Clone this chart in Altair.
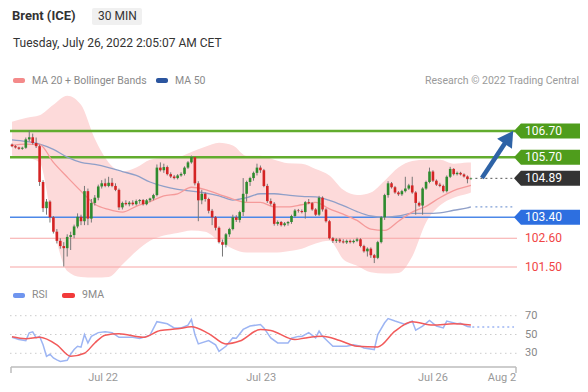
import altair as alt
import pandas as pd

# ---------------- data ----------------
opens = [106.18,106.12,106.07,106.02,106.06,106.38,106.46,106.24,106.12,104.75,
         103.75,104.00,103.40,102.85,102.50,102.30,102.22,102.65,102.72,103.05,
         103.42,103.25,104.40,103.35,103.95,104.15,104.58,104.70,104.60,104.72,
         104.60,104.45,103.78,103.95,103.90,103.96,103.90,104.02,104.06,103.90,
         104.05,104.12,104.25,105.30,105.20,105.32,105.05,104.96,104.90,105.00,
         105.06,105.30,105.50,105.70,104.70,104.05,104.30,104.10,103.65,103.40,
         103.00,102.45,102.35,102.75,102.95,103.40,103.30,103.60,104.30,104.75,
         104.90,105.10,105.30,105.20,104.60,104.02,103.92,103.15,103.22,103.10,
         103.17,103.22,103.45,103.66,103.64,103.60,103.98,103.94,103.70,103.50,
         104.15,103.70,103.25,102.60,102.50,102.55,102.48,102.44,102.50,102.45,
         102.50,102.56,102.30,102.10,102.20,101.95,101.85,102.45,103.40,104.25,
         104.70,104.55,104.35,104.28,104.40,104.50,104.62,104.35,103.95,103.85,
         104.50,104.75,105.15,104.80,104.65,104.60,104.40,104.95,105.25,105.05,
         105.10,105.04,104.96,104.86]
highs = [106.22,106.16,106.10,106.10,106.45,106.72,106.60,106.45,106.18,104.82,
         104.10,104.05,103.45,102.95,102.60,102.45,102.75,102.85,103.12,103.55,
         103.50,104.60,104.50,104.10,104.25,104.65,104.82,104.88,104.95,104.90,
         104.70,104.50,104.00,104.05,104.02,104.05,104.08,104.10,104.10,104.10,
         104.15,104.30,105.42,105.50,105.45,105.38,105.12,105.02,105.05,105.12,
         105.35,105.55,105.76,105.72,104.78,104.45,104.35,104.15,103.72,103.45,
         103.05,102.55,102.80,103.00,103.50,103.48,103.65,104.90,104.80,104.95,
         105.15,105.45,105.38,105.25,104.68,104.12,103.98,103.28,103.26,103.22,
         103.26,103.50,103.72,103.72,103.70,104.02,104.10,103.98,103.75,104.22,
         104.20,103.75,103.30,102.65,102.60,102.60,102.56,102.55,102.55,102.55,
         102.62,102.60,102.35,102.25,102.25,102.00,102.50,103.45,104.30,104.78,
         104.75,104.60,104.40,104.45,104.95,104.68,104.95,104.40,104.00,104.55,
         104.80,105.30,105.20,104.85,104.72,104.65,105.00,105.33,105.28,105.15,
         105.14,105.08,105.00,104.92]
lows = [106.08,106.03,105.98,105.98,106.02,106.30,106.18,106.05,104.60,103.60,
        103.50,103.20,102.78,102.40,102.20,101.52,101.90,102.15,102.60,102.98,
        103.10,103.10,103.10,103.20,103.85,104.05,104.50,104.55,104.55,104.55,
        104.40,103.68,103.70,103.85,103.82,103.85,103.85,103.92,103.85,103.86,
        103.98,104.05,104.20,105.15,105.10,105.00,104.90,104.85,104.85,104.95,
        105.00,105.25,105.45,104.62,103.25,103.90,104.00,103.55,103.10,102.90,
        102.40,101.90,102.25,102.65,102.90,103.22,103.20,103.45,104.00,104.60,
        104.80,105.00,105.10,104.55,103.95,103.85,103.08,103.08,103.05,103.05,
        103.08,103.15,103.40,103.58,103.55,103.35,103.90,103.65,103.45,103.45,
        103.62,103.20,102.55,102.42,102.42,102.42,102.40,102.38,102.40,102.40,
        102.45,102.25,102.05,101.90,101.85,101.65,101.80,102.40,103.30,104.15,
        104.50,104.30,104.22,104.22,104.35,104.45,104.30,103.50,103.80,103.50,
        104.45,104.70,104.75,104.60,104.55,104.35,104.35,104.90,105.00,105.00,
        105.00,104.92,104.70,104.84]
closes = [106.12,106.07,106.02,106.06,106.38,106.46,106.24,106.12,104.75,103.75,
          104.00,103.40,102.85,102.50,102.30,102.22,102.65,102.72,103.05,103.42,
          103.25,104.40,103.35,103.95,104.15,104.58,104.70,104.60,104.72,104.60,
          104.45,103.78,103.95,103.90,103.96,103.90,104.02,104.06,103.90,104.05,
          104.12,104.25,105.30,105.20,105.32,105.05,104.96,104.90,105.00,105.06,
          105.30,105.50,105.70,104.70,104.05,104.30,104.10,103.65,103.40,103.00,
          102.45,102.35,102.75,102.95,103.40,103.30,103.60,104.30,104.75,104.90,
          105.10,105.30,105.20,104.60,104.02,103.92,103.15,103.22,103.10,103.17,
          103.22,103.45,103.66,103.64,103.60,103.98,103.94,103.70,103.50,104.15,
          103.70,103.25,102.60,102.50,102.55,102.48,102.44,102.50,102.45,102.50,
          102.56,102.30,102.10,102.20,101.95,101.85,102.45,103.40,104.25,104.70,
          104.55,104.35,104.28,104.40,104.50,104.62,104.35,103.95,103.85,104.50,
          104.75,105.15,104.80,104.65,104.60,104.40,104.95,105.25,105.05,105.10,
          105.04,104.96,104.86,104.89]

ind_idx = [0,4,8,12,16,20,24,28,32,36,40,44,48,52,56,60,64,68,72,76,80,84,88,92,
           96,100,104,108,112,116,120,124,128,132,133]
ma20 = [106.15,106.2,106.18,105.5,104.94,104.4,103.9,103.7,103.6,103.82,104.0,104.22,
        104.3,104.55,104.46,104.28,104.1,103.97,103.97,103.8,103.8,103.88,103.97,103.72,
        103.52,103.28,102.95,102.9,103.25,103.6,103.82,104.15,104.42,104.58,104.62]
ma50 = [106.36,106.3,106.2,106.0,105.7,105.5,105.42,105.3,105.15,105.0,104.75,104.58,
        104.47,104.4,104.33,104.22,104.06,104.15,104.3,104.3,104.25,104.2,104.18,104.05,
        103.85,103.62,103.45,103.4,103.45,103.55,103.55,103.57,103.67,103.76,103.8]
bb_up = [107.05,107.2,107.3,107.7,108.05,107.7,106.4,105.5,105.15,105.3,105.6,105.67,
         105.7,105.9,106.1,106.25,106.15,105.75,105.75,105.6,105.47,105.45,105.25,105.0,
         104.45,104.25,104.35,104.8,105.3,105.55,105.6,105.6,105.45,105.5,105.5]
bb_lo = [105.75,105.7,105.5,103.0,101.35,101.12,101.1,101.12,101.6,102.1,102.5,102.7,
         102.8,102.9,102.85,102.5,102.2,102.05,102.05,102.05,102.1,102.2,102.4,102.5,
         101.8,101.55,101.3,101.25,101.27,101.9,103.2,103.85,104.15,104.3,104.35]

rsi_idx = [0,2,4,5,6,7,8,9,10,11,12,13,14,16,17,18,19,20,21,22,23,25,27,29,31,35,37,39,
           40,42,45,47,49,51,52,53,54,57,59,60,62,64,65,67,69,72,73,75,77,80,81,83,84,
           86,88,89,90,93,97,99,101,102,105,106,108,109,111,114,116,117,119,121,123,125,
           126,129,130,132,133]
rsi_val = [47,44.6,43.5,51.8,52.9,46.4,48,39,26.8,29,25,23,21.4,22.5,29,34,37.5,36.5,50,
           41,48,52,53,52,47,47,45.7,48,49.3,63.6,61.4,57,57,60,66,50,40,43.6,39,32,37.5,
           46.4,46,55.4,59,60.7,57,46.4,41,41,46,48,48,52,46.4,53.6,48,37.5,37.5,39,37.5,
           35.7,34,50,62.5,67,64.3,60.7,64.3,54.6,59,65,59,57,64.3,61.5,62,58.6,58]
ma9_idx = [0,4,8,13,17,21,24,27,31,38,43,48,52,57,62,66,72,75,82,85,90,95,100,106,111,
           116,122,128,133]
ma9_val = [47.5,45.4,47,39,26.8,30,41,49.3,50.7,47,54.3,56,58.2,51,40,43,55.4,54.3,44.6,
           46.4,48.2,43.6,37.5,36.8,53.6,63.6,60,61.4,60]

level_prices = [106.70, 105.70, 104.89, 103.40, 102.60, 101.50]
level_kinds = ["res", "res", "last", "sup", "sup2", "sup2"]

rsi_levels = [30, 50, 70]
tick_pos = [26.4, 72.2, 122.0, 142.0]
tick_labels = ["Jul 22", "Jul 23", "Jul 26", "Aug 2"]

# projection arrow (index, price)
arrow_i = [136.2, 144.0]
arrow_p = [104.90, 106.46]

# ---------------- frames ----------------
N = len(closes)
candles = pd.DataFrame({"i": list(range(N)), "o": opens, "h": highs, "l": lows, "c": closes})
candles["dir"] = ["up" if c >= o else "down" for o, c in zip(opens, closes)]
ind = pd.DataFrame({"i": ind_idx, "ma20": ma20, "ma50": ma50, "up": bb_up, "lo": bb_lo})
rsi = pd.DataFrame({"i": rsi_idx, "v": rsi_val})
ma9 = pd.DataFrame({"i": ma9_idx, "v": ma9_val})
lv = pd.DataFrame({"p": level_prices, "k": level_kinds,
                   "t": [f"{p:.2f}" for p in level_prices]})
box_fill = {"res": "#4f9d1c", "last": "#333333", "sup": "#2d6fe0"}
boxes = lv[lv.k.isin(box_fill)].copy()
boxes["fill"] = boxes.k.map(box_fill)

FONT = "Roboto"
xs = alt.Scale(domain=[0, 133], range=[4, 462.9], nice=False, zero=False, padding=0)
ps = alt.Scale(domain=[101.5, 106.7], range=[259, 123], nice=False, zero=False, padding=0)
rs = alt.Scale(domain=[30, 70], range=[345.3, 307.7], nice=False, zero=False, padding=0)
X = alt.X("i:Q", scale=xs, axis=None)


def PY(f):
    return alt.Y(f"{f}:Q", scale=ps, axis=None)


def RY(f):
    return alt.Y(f"{f}:Q", scale=rs, axis=None)


def one(txt=""):
    return alt.Chart(pd.DataFrame({"t": [txt]}))


def label(txt, x, y, size=11, color="#888", weight="normal", align="left"):
    return one(txt).mark_text(font=FONT, fontSize=size, color=color, fontWeight=weight,
                              align=align, baseline="middle").encode(
        x=alt.value(x), y=alt.value(y), text="t:N")


def swatch(x1, x2, y1, y2, color):
    return one().mark_rect(color=color, cornerRadius=2).encode(
        x=alt.value(x1), x2=alt.value(x2), y=alt.value(y1), y2=alt.value(y2))


layers = []
# bollinger band
layers.append(alt.Chart(ind).mark_area(color="#fddada", interpolate="monotone").encode(
    x=X, y=PY("up"), y2="lo:Q"))
# level lines
layers.append(alt.Chart(lv[lv.k == "sup2"]).mark_rule(color="#f7a6a6", strokeWidth=1.2).encode(
    x=alt.value(2), x2=alt.value(509), y=PY("p")))
layers.append(alt.Chart(lv[lv.k == "sup"]).mark_rule(color="#4d88e8", strokeWidth=1.5).encode(
    x=alt.value(2), x2=alt.value(507), y=PY("p")))
layers.append(alt.Chart(lv[lv.k == "res"]).mark_rule(color="#62ac2e", strokeWidth=2.5).encode(
    x=alt.value(2), x2=alt.value(507), y=PY("p")))
# moving averages
layers.append(alt.Chart(ind).mark_line(color="#8f9fc8", strokeWidth=1.3, interpolate="monotone").encode(
    x=X, y=PY("ma50")))
layers.append(alt.Chart(ind).mark_line(color="#f59a9a", strokeWidth=1.3, interpolate="monotone").encode(
    x=X, y=PY("ma20")))
# candles
layers.append(alt.Chart(candles).mark_rule(color="#777777", strokeWidth=1).encode(
    x=X, y=PY("l"), y2="h:Q"))
layers.append(alt.Chart(candles).mark_bar(size=2.6).encode(
    x=X, y=PY("o"), y2="c:Q",
    color=alt.Color("dir:N", scale=alt.Scale(domain=["up", "down"], range=["#2e8b2e", "#d42424"]),
                    legend=None)))
# dotted extensions
ext_last = pd.DataFrame({"i": [134.3, 145.0], "p": [closes[-1], closes[-1]]})
ext_ma50 = pd.DataFrame({"i": [134.3, 145.0], "p": [ma50[-1], ma50[-1]]})
layers.append(alt.Chart(ext_last).mark_line(color="#555555", strokeWidth=1, strokeDash=[2, 3]).encode(
    x=X, y=PY("p")))
layers.append(alt.Chart(ext_ma50).mark_line(color="#7f9fd6", strokeWidth=1.2, strokeDash=[2, 3]).encode(
    x=X, y=PY("p")))
# arrow
arrow = pd.DataFrame({"i": arrow_i, "p": arrow_p})
layers.append(alt.Chart(arrow).mark_line(color="#2e63a6", strokeWidth=4.5).encode(x=X, y=PY("p")))
layers.append(alt.Chart(arrow.tail(1)).mark_point(shape="triangle-up", size=320, filled=True,
                                                   color="#2e63a6", opacity=1, angle=34).encode(
    x=X, y=PY("p")))
# level labels (pentagon boxes)
PATH = "M-1,0L-0.79,-0.227L1,-0.227L1,0.227L-0.79,0.227Z"
layers.append(alt.Chart(boxes).mark_point(shape=PATH, size=4356, filled=True, opacity=1,
                                          strokeWidth=0).encode(
    x=alt.value(539), y=PY("p"), color=alt.Color("fill:N", scale=None)))
layers.append(alt.Chart(boxes).mark_text(font=FONT, fontSize=12, color="white", align="left",
                                         baseline="middle").encode(
    x=alt.value(517), y=PY("p"), text="t:N"))
layers.append(alt.Chart(lv[lv.k == "sup2"]).mark_text(font=FONT, fontSize=12, color="#f04545",
                                                      align="left", baseline="middle").encode(
    x=alt.value(517), y=PY("p"), text="t:N"))

# RSI panel
rl = pd.DataFrame({"v": rsi_levels, "t": [str(v) for v in rsi_levels]})
layers.append(alt.Chart(rl).mark_rule(color="#cccccc", strokeWidth=1, strokeDash=[1.5, 3.5]).encode(
    x=alt.value(2), x2=alt.value(509), y=RY("v")))
layers.append(alt.Chart(rl).mark_text(font=FONT, fontSize=11, color="#888888", align="left",
                                      baseline="middle").encode(
    x=alt.value(517), y=RY("v"), text="t:N"))
layers.append(alt.Chart(rsi).mark_line(color="#9db5f3", strokeWidth=1.5).encode(x=X, y=RY("v")))
layers.append(alt.Chart(ma9).mark_line(color="#f25a5a", strokeWidth=1.5, interpolate="monotone").encode(
    x=X, y=RY("v")))
ext_rsi = pd.DataFrame({"i": [133.4, 145.5], "v": [rsi_val[-1], rsi_val[-1]]})
layers.append(alt.Chart(ext_rsi).mark_line(color="#9db5f3", strokeWidth=1.3, strokeDash=[2, 3]).encode(
    x=X, y=RY("v")))

# x axis
layers.append(one().mark_rule(color="#bdbdbd", strokeWidth=1.5).encode(
    x=alt.value(3), x2=alt.value(508), y=alt.value(359)))
layers.append(one().mark_rule(color="#bdbdbd", strokeWidth=1.5).encode(
    x=alt.value(3), y=alt.value(359), y2=alt.value(365)))
layers.append(one().mark_rule(color="#bdbdbd", strokeWidth=1.5).encode(
    x=alt.value(508), y=alt.value(359), y2=alt.value(365)))
ticks = pd.DataFrame({"i": tick_pos, "t": tick_labels})
layers.append(alt.Chart(ticks).mark_text(font=FONT, fontSize=11, color="#999999", align="center",
                                         baseline="middle").encode(
    x=X, y=alt.value(370), text="t:N"))

# header & legends
layers.append(swatch(84, 134, 0, 17, "#f0f0f0"))
layers.append(label("Brent (ICE)", 4, 8, size=13, color="#333333", weight="bold"))
layers.append(label("30 MIN", 90, 8, size=12, color="#333333"))
layers.append(label("Tuesday, July 26, 2022 2:05:07 AM CET", 5, 35, size=12, color="#333333"))
layers.append(swatch(5, 17, 70, 75, "#f48a8a"))
layers.append(label("MA 20 + Bollinger Bands", 24, 73, size=10.5, color="#8a8a8a"))
layers.append(swatch(148, 160, 70, 75, "#2b559f"))
layers.append(label("MA 50", 167, 73, size=10.5, color="#8a8a8a"))
layers.append(label("Research \u00a9 2022 Trading Central", 571, 73, size=10.5, color="#9a9a9a",
                    align="right"))
layers.append(swatch(5, 17, 285, 290, "#6f95ef"))
layers.append(label("RSI", 24, 287, size=10.5, color="#8a8a8a"))
layers.append(swatch(54, 67, 285, 290, "#f23a3a"))
layers.append(label("9MA", 74, 287, size=10.5, color="#8a8a8a"))

chart = alt.layer(*layers).resolve_scale(y="independent").properties(
    width=572, height=376, autosize=alt.AutoSizeParams(type="none"), padding=0
).configure_view(stroke=None)

chart.save("out.html", embed_options={"renderer": "svg", "actions": False})
